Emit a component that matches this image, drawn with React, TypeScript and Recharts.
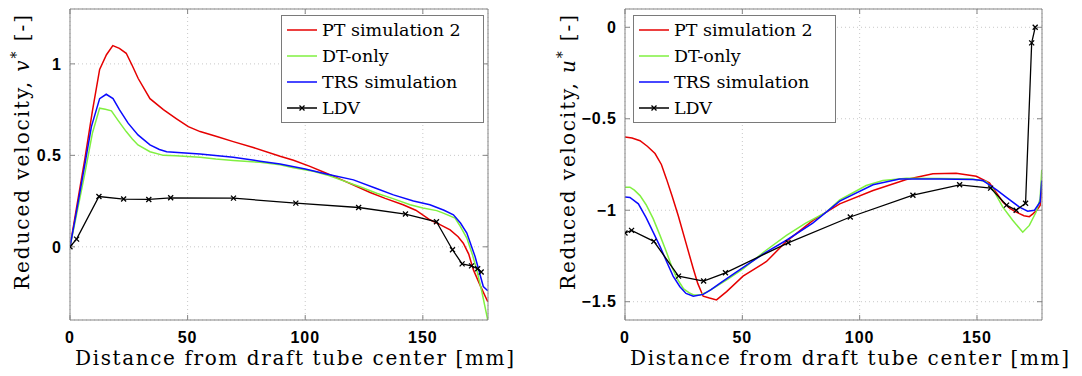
import { CartesianGrid, Label, Legend, Line, LineChart, XAxis, YAxis } from "recharts";

const X_DOMAIN: [number, number] = [0, 177.7];
const X_TICKS = [0, 50, 100, 150];
const V_TICKS = [0, 0.5, 1];
const U_TICKS = [-1.5, -1, -0.5, 0];
const SERIES = ["PT simulation 2", "DT-only", "TRS simulation", "LDV"];
const COLORS = ["#e60000", "#80f040", "#0a0aff", "#000000"];

// left panel: reduced velocity v*
const V_PT: [number, number][] = [
  [0, 0], [3, 0.23], [6.3, 0.48], [9.5, 0.74], [12.6, 0.97], [15.5, 1.05], [18.2, 1.1], [21, 1.085],
  [23.9, 1.058], [26.5, 0.99], [29, 0.92], [34, 0.81], [39.7, 0.75], [45.3, 0.7], [50.3, 0.657],
  [55.3, 0.63], [62.4, 0.603], [69.4, 0.575], [77.9, 0.543], [89.3, 0.495], [95, 0.473], [102, 0.44],
  [109, 0.402], [114.8, 0.37], [121, 0.335], [127.6, 0.297], [134, 0.265], [141.6, 0.23], [147, 0.2],
  [153, 0.148], [157.5, 0.12], [161.6, 0.093], [165, 0.055], [167.2, 0.02], [169.5, -0.04],
  [171.5, -0.126], [174.5, -0.215], [177.6, -0.3],
];
const V_DT: [number, number][] = [
  [0, 0], [3, 0.19], [6.3, 0.4], [9.5, 0.62], [12.6, 0.758], [15, 0.752], [17.6, 0.743], [20.5, 0.69],
  [23.9, 0.63], [26.5, 0.59], [28.9, 0.557], [34, 0.52], [39.7, 0.5], [45, 0.498], [55.3, 0.49],
  [62, 0.48], [69.4, 0.472], [80.8, 0.462], [89.3, 0.448], [95, 0.432], [103.4, 0.413], [110, 0.39],
  [116, 0.362], [123, 0.33], [130.4, 0.293], [137, 0.265], [144.6, 0.23], [150, 0.212], [155.9, 0.198],
  [158.7, 0.184], [163.7, 0.157], [166, 0.11], [168.7, 0.048], [171, -0.04], [172.9, -0.126],
  [175, -0.24], [177.6, -0.4],
];
const V_TRS: [number, number][] = [
  [0, 0], [3, 0.21], [6.3, 0.45], [9.1, 0.657], [12.6, 0.81], [15.4, 0.834], [18.3, 0.81], [21, 0.75],
  [24.7, 0.676], [28.9, 0.612], [34, 0.557], [38, 0.532], [41.1, 0.52], [55.3, 0.508], [69.4, 0.49],
  [80.8, 0.468], [89.3, 0.453], [100, 0.425], [109, 0.398], [120.5, 0.366], [130, 0.32], [137.5, 0.284],
  [146, 0.25], [153, 0.23], [159, 0.2], [163, 0.175], [166, 0.13], [168.7, 0.075], [172.2, -0.053],
  [175.7, -0.217], [177.6, -0.24],
];

// right panel: reduced velocity u*
const U_PT: [number, number][] = [
  [0, -0.6], [3, -0.605], [6.4, -0.62], [9.5, -0.65], [12.8, -0.69], [15.5, -0.75], [17.7, -0.83],
  [20, -0.92], [22.7, -1.03], [26, -1.18], [29.1, -1.32], [31, -1.4], [33.3, -1.47], [36, -1.48],
  [39, -1.49], [43.3, -1.445], [50.3, -1.36], [60.3, -1.28], [68.8, -1.17], [80.1, -1.055],
  [91.5, -0.965], [105.7, -0.892], [119.9, -0.832], [131.2, -0.8], [141.1, -0.798], [149.7, -0.814],
  [155.3, -0.85], [158, -0.9], [161, -0.955], [164, -0.99], [166.7, -1.01], [170, -1.03],
  [172.3, -1.035], [173.8, -1.02], [175.5, -1.0], [176.9, -0.974], [177.6, -0.87],
];
const U_DT: [number, number][] = [
  [0, -0.874], [2.1, -0.874], [4, -0.89], [6.4, -0.92], [9, -0.97], [12, -1.046], [15, -1.14],
  [17.7, -1.23], [20, -1.31], [22, -1.37], [25, -1.43], [27.7, -1.454], [29.5, -1.464], [31.9, -1.464],
  [34.5, -1.45], [37.6, -1.427], [44, -1.375], [50.3, -1.32], [60, -1.22], [68.8, -1.137], [77, -1.07],
  [85.8, -1.01], [91.5, -0.944], [102.8, -0.865], [109.9, -0.838], [119.9, -0.825], [135, -0.827],
  [148, -0.829], [153.9, -0.843], [156.7, -0.883], [161, -0.983], [165.2, -1.055], [169.5, -1.12],
  [172.3, -1.083], [175.2, -1.01], [176.9, -0.937], [177.6, -0.78],
];
const U_TRS: [number, number][] = [
  [0, -0.928], [2.1, -0.93], [5.7, -0.965], [9, -1.04], [12, -1.12], [15, -1.2], [17.7, -1.28],
  [20.5, -1.36], [23.4, -1.418], [26, -1.455], [29.1, -1.47], [33.3, -1.46], [36.5, -1.435],
  [40.4, -1.4], [46, -1.35], [51.8, -1.3], [60, -1.23], [68.8, -1.164], [80, -1.07], [91.5, -0.95],
  [105.7, -0.861], [117, -0.829], [134, -0.829], [148.2, -0.832], [152.5, -0.838], [155.3, -0.861],
  [158.5, -0.89], [162.4, -0.928], [168.1, -0.983], [171.6, -1.005], [174.5, -1.0], [176.9, -0.955],
  [177.6, -0.838],
];

// LDV measurement points (same radial positions in both panels)
const LDV_X = [0, 2.8, 12.3, 22.8, 33.5, 42.8, 69.5, 96, 122.7, 142.6, 155.8, 162.6, 166.7, 170.7, 173.3, 174.8];
const LDV_V = [0, 0.042, 0.275, 0.261, 0.259, 0.268, 0.266, 0.239, 0.215, 0.179, 0.137, -0.016, -0.093, -0.104, -0.12, -0.138];
const LDV_U = [-1.124, -1.11, -1.17, -1.36, -1.387, -1.342, -1.178, -1.037, -0.918, -0.861, -0.879, -0.972, -1.0, -0.962, -0.085, 0];

const toPts = (arr: [number, number][]) => arr.map(([x, y]) => ({ x, y }));
const ldvPts = (ys: number[]) => LDV_X.map((x, i) => ({ x, y: ys[i] }));

const FRAME = "#858585";
const TICK_STYLE = { fill: "#000", fontSize: 16, fontWeight: 700, fontFamily: "Liberation Sans, Arial, sans-serif", letterSpacing: 1 };
const SERIF = "DejaVu Serif, serif";

const cross = (cx: number, cy: number, key?: any) => (
  <path
    key={key}
    d={`M${cx - 2.5},${cy - 2.5}L${cx + 2.5},${cy + 2.5}M${cx - 2.5},${cy + 2.5}L${cx + 2.5},${cy - 2.5}`}
    stroke="#000"
    strokeWidth={1.3}
    fill="none"
  />
);

function LegendBox({ payload }: any) {
  const items = [...(payload || [])].sort((a, b) => SERIES.indexOf(a.value) - SERIES.indexOf(b.value));
  return (
    <div style={{ border: "1px solid #7a7a7a", background: "#fff", boxSizing: "border-box", width: "100%", height: "100%", paddingTop: 1 }}>
      {items.map((e) => (
        <div key={e.value} style={{ height: 26, display: "flex", alignItems: "center" }}>
          <svg width={40} height={26} style={{ flex: "none" }}>
            <line x1={5} x2={35} y1={13} y2={13} stroke={e.color} strokeWidth={1.5} />
            {e.value === "LDV" && cross(20, 13)}
          </svg>
          <span style={{ fontFamily: SERIF, fontSize: 17.5, lineHeight: "26px", color: "#000", whiteSpace: "nowrap" }}>{e.value}</span>
        </div>
      ))}
    </div>
  );
}

const fmtSigned = (v: number) => (v < 0 ? "\u2212" + Math.abs(v) : String(v));

function Panel({ sims, ldv, yDomain, yTicks, sym, axisWidth, rightGap, legendLeft, labelX }: any) {
  return (
    <LineChart width={541} height={376} margin={{ top: 0, right: rightGap, bottom: 0, left: 0 }}>
      <CartesianGrid xAxisId="b" yAxisId="l" stroke="#c8c8c8" strokeDasharray="1 3" />
      <XAxis
        xAxisId="b"
        type="number"
        dataKey="x"
        domain={X_DOMAIN}
        ticks={X_TICKS}
        interval={0}
        allowDataOverflow
        height={56}
        tickSize={-5}
        tickMargin={17}
        stroke={FRAME}
        tick={TICK_STYLE}
      >
        <Label
          content={() => (
            <text x={axisWidth + 5} y={365} textLength={439} lengthAdjust="spacing" fontFamily={SERIF} fontSize={20} fill="#000">
              Distance from draft tube center [mm]
            </text>
          )}
        />
      </XAxis>
      <XAxis
        xAxisId="t"
        orientation="top"
        type="number"
        dataKey="x"
        domain={X_DOMAIN}
        ticks={X_TICKS}
        interval={0}
        allowDataOverflow
        height={9}
        tickSize={-5}
        stroke={FRAME}
        tickFormatter={() => ""}
      />
      <YAxis
        yAxisId="l"
        type="number"
        domain={yDomain}
        ticks={yTicks}
        interval={0}
        allowDataOverflow
        width={axisWidth}
        tickSize={-5}
        tickMargin={13}
        stroke={FRAME}
        tick={TICK_STYLE}
        tickFormatter={fmtSigned}
      >
        <Label
          content={() => (
            <text
              x={labelX}
              y={290}
              transform={`rotate(-90, ${labelX}, 290)`}
              textLength={275}
              lengthAdjust="spacing"
              fontFamily={SERIF}
              fontSize={20}
              fill="#000"
            >
              Reduced velocity,{" "}
              <tspan fontStyle="italic">{sym}</tspan>
              <tspan dy={-8} fontSize={14}>*</tspan>
              <tspan dy={8}> [-]</tspan>
            </text>
          )}
        />
      </YAxis>
      <YAxis
        yAxisId="r"
        orientation="right"
        type="number"
        domain={yDomain}
        ticks={yTicks}
        interval={0}
        allowDataOverflow
        width={10}
        tickSize={-5}
        stroke={FRAME}
        tickFormatter={() => ""}
      />
      {sims.map((s: [number, number][], i: number) => (
        <Line
          key={SERIES[i]}
          xAxisId="b"
          yAxisId="l"
          data={toPts(s)}
          dataKey="y"
          name={SERIES[i]}
          type="linear"
          stroke={COLORS[i]}
          strokeWidth={1.5}
          dot={false}
          activeDot={false}
          isAnimationActive={false}
        />
      ))}
      <Line
        xAxisId="b"
        yAxisId="l"
        data={ldvPts(ldv)}
        dataKey="y"
        name="LDV"
        type="linear"
        stroke="#000"
        strokeWidth={1.3}
        dot={(p: any) => cross(p.cx, p.cy, `d${p.index}`)}
        activeDot={false}
        isAnimationActive={false}
      />
      <Legend
        layout="horizontal"
        verticalAlign="middle"
        align="center"
        content={<LegendBox />}
        wrapperStyle={{ left: legendLeft, top: 15, width: 203, height: 108 }}
      />
    </LineChart>
  );
}

export default function App() {
  return (
    <div style={{ position: "absolute", left: 0, top: 0, width: 1082, height: 376, background: "#fff" }}>
      <div style={{ position: "absolute", left: 0, top: 0 }}>
        <Panel
          sims={[V_PT, V_DT, V_TRS]}
          ldv={LDV_V}
          yDomain={[-0.4, 1.3]}
          yTicks={V_TICKS}
          sym="v"
          axisWidth={70}
          rightGap={43}
          legendLeft={281}
          labelX={28.5}
        />
      </div>
      <div style={{ position: "absolute", left: 541, top: 0 }}>
        <Panel
          sims={[U_PT, U_DT, U_TRS]}
          ldv={LDV_U}
          yDomain={[-1.6, 0.1]}
          yTicks={U_TICKS}
          sym="u"
          axisWidth={84}
          rightGap={30}
          legendLeft={92}
          labelX={34}
        />
      </div>
    </div>
  );
}
